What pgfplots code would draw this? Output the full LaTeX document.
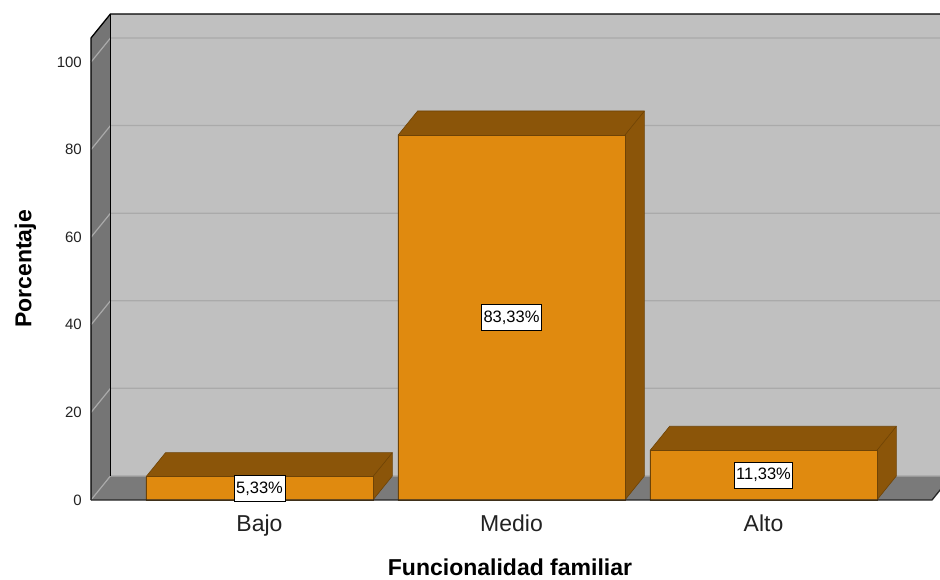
\documentclass[border=0pt]{standalone}
\usepackage{pgfplots}
\pgfplotsset{compat=1.18}
\usepackage{pgfplotstable}
\usepackage{fontspec}
\setmainfont{Liberation Sans}
\definecolor{wallback}{HTML}{C0C0C0}
\definecolor{wallside}{HTML}{757575}
\definecolor{floorc}{HTML}{7A7A7A}
\definecolor{gridc}{HTML}{AAAAAA}
\definecolor{barfront}{HTML}{E08A0F}
\definecolor{bardark}{HTML}{8B5509}
\definecolor{baredge}{HTML}{6E4306}
\definecolor{txt}{HTML}{222222}

\pgfplotstableread{
idx value
0 5.33
1 83.33
2 11.33
}\datatable

\begin{document}
\begin{tikzpicture}
\path[use as bounding box] (0,0) rectangle (940bp,580bp);
\begin{axis}[
  at={(91bp,80bp)}, anchor=south west,
  scale only axis, width=841bp, height=462bp,
  xmin=-0.6687, xmax=2.6687, ymin=0, ymax=105.5,
  enlargelimits=false, clip=false,
  axis line style={draw=none},
  major tick length=0pt,
  xtick={0,1,2}, xticklabels={Bajo,Medio,Alto},
  ytick={0,20,40,60,80,100},
  /pgf/number format/assume math mode=true,
  yticklabel style={anchor=east, inner sep=0pt, xshift=-9bp, font=\fontsize{15bp}{18bp}\selectfont, text=txt},
  xticklabel style={anchor=north, inner sep=0pt, yshift=-15bp, font=\fontsize{23bp}{27bp}\selectfont, text=txt},
  xlabel={\textbf{Funcionalidad familiar}},
  ylabel={\textbf{Porcentaje}},
  every axis x label/.style={at={(axis description cs:0.4982,-0.1465)}, anchor=center, inner sep=0pt, font=\fontsize{23bp}{27bp}\selectfont},
  every axis y label/.style={at={(axis description cs:-0.0779,0.5)}, anchor=center, rotate=90, font=\fontsize{23bp}{27bp}\selectfont},
  no markers,
]
% back wall
\addplot[fill=wallback, draw=none, forget plot] coordinates {(-0.5913,5.5) (2.8,5.5) (2.8,111) (-0.5913,111)} -- cycle;
% left wall
\addplot[fill=wallside, draw=none, forget plot] coordinates {(-0.6687,0) (-0.5913,5.5) (-0.5913,111) (-0.6687,105.5)} -- cycle;
% floor
\addplot[fill=floorc, draw=none, forget plot] coordinates {(-0.6687,0) (2.6687,0) (2.7461,5.5) (2.8,5.5) (2.8,5.5) (-0.5913,5.5)} -- cycle;
% grid lines
\addplot[gridc, line width=1.2bp, forget plot] coordinates {(-0.6687,0) (-0.5913,5.5) (2.8,5.5)};
\addplot[gridc, line width=1.2bp, forget plot] coordinates {(-0.6687,20) (-0.5913,25.5) (2.8,25.5)};
\addplot[gridc, line width=1.2bp, forget plot] coordinates {(-0.6687,40) (-0.5913,45.5) (2.8,45.5)};
\addplot[gridc, line width=1.2bp, forget plot] coordinates {(-0.6687,60) (-0.5913,65.5) (2.8,65.5)};
\addplot[gridc, line width=1.2bp, forget plot] coordinates {(-0.6687,80) (-0.5913,85.5) (2.8,85.5)};
\addplot[gridc, line width=1.2bp, forget plot] coordinates {(-0.6687,100) (-0.5913,105.5) (2.8,105.5)};
% wall outlines
\addplot[black, line width=1.3bp, forget plot] coordinates {(-0.6687,0) (-0.6687,105.5) (-0.5913,111) (2.8,111)};
\addplot[black, line width=1.3bp, forget plot] coordinates {(-0.5913,5.5) (-0.5913,111)};
% bar extrusions (top and side faces)
\addplot[fill=bardark, draw=baredge, line width=0.6bp, forget plot] coordinates {(-0.45,0) (0.45,0) (0.5274,5.5) (0.5274,10.83) (-0.3726,10.83) (-0.45,5.33)} -- cycle;
\addplot[baredge, line width=0.6bp, forget plot] coordinates {(0.45,5.33) (0.5274,10.83)};
\addplot[fill=bardark, draw=baredge, line width=0.6bp, forget plot] coordinates {(0.55,0) (1.45,0) (1.5274,5.5) (1.5274,88.83) (0.6274,88.83) (0.55,83.33)} -- cycle;
\addplot[baredge, line width=0.6bp, forget plot] coordinates {(1.45,83.33) (1.5274,88.83)};
\addplot[fill=bardark, draw=baredge, line width=0.6bp, forget plot] coordinates {(1.55,0) (2.45,0) (2.5274,5.5) (2.5274,16.83) (1.6274,16.83) (1.55,11.33)} -- cycle;
\addplot[baredge, line width=0.6bp, forget plot] coordinates {(2.45,11.33) (2.5274,16.83)};
% bar front faces
\addplot[ybar, bar width=0.9, fill=barfront, draw=baredge, line width=0.6bp, forget plot] table[x=idx, y=value] {\datatable};
% floor front edge
\addplot[black!85, line width=1.3bp, forget plot] coordinates {(-0.6687,0) (2.6687,0) (2.7461,5.5)};
% value labels
\addplot[draw=none, forget plot, point meta=explicit,
  nodes near coords={\pgfmathprintnumber[fixed,fixed zerofill,precision=2,use comma]{\pgfplotspointmeta}\%},
  nodes near coords style={anchor=center, fill=white, draw=black, line width=0.8bp, inner xsep=2bp, inner ysep=0pt, minimum height=26bp, text=black, font=\fontsize{16.5bp}{19bp}\selectfont}]
  table[x=idx, y expr=\thisrow{value}/2, meta=value] {\datatable};
\end{axis}
\end{tikzpicture}
\end{document}
